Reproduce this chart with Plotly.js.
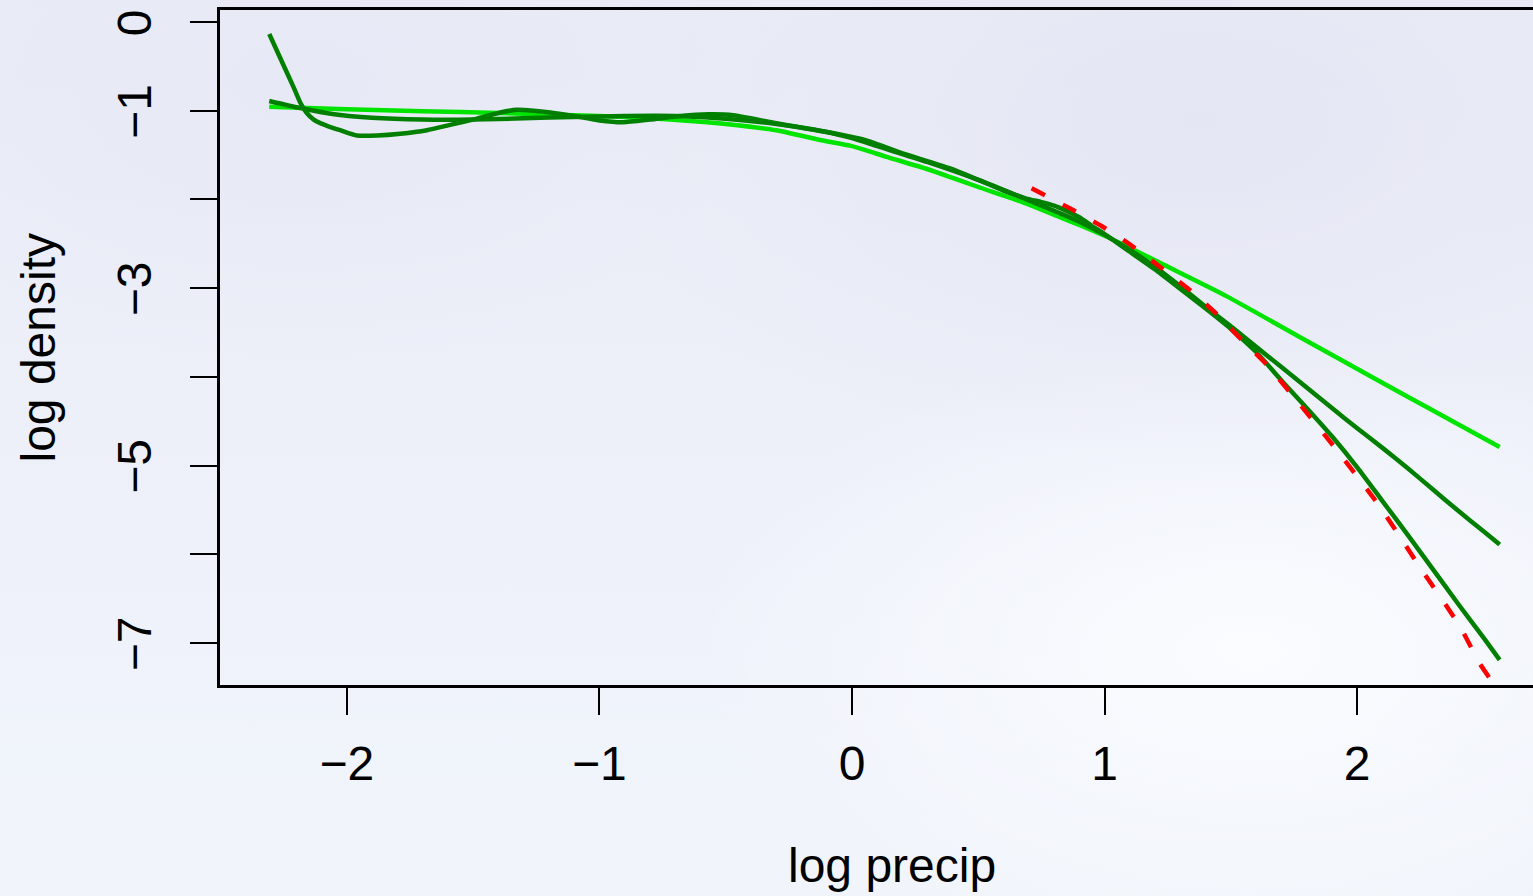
<!DOCTYPE html>
<html>
<head>
<meta charset="utf-8">
<script src="https://cdn.plot.ly/plotly-3.0.1.min.js"></script>
<style>
html, body { margin: 0; padding: 0; overflow: hidden; width: 1533px; height: 896px; }
body {
  background:
    radial-gradient(ellipse 900px 500px at 1200px 120px, rgba(228,229,243,0.9), rgba(228,229,243,0) 70%),
    radial-gradient(ellipse 700px 400px at 300px 80px, rgba(230,233,245,0.9), rgba(230,233,245,0) 70%),
    radial-gradient(ellipse 800px 450px at 1250px 650px, rgba(250,252,255,1), rgba(250,252,255,0) 70%),
    linear-gradient(180deg, #eaedf7 0%, #edf0f9 50%, #f1f5fb 100%);
}
#chart { width: 1533px; height: 896px; }
</style>
</head>
<body>
<div id="chart"></div>
<script>
// Wiggly kernel density estimate (dark green)
const kdeX = [-2.307,-2.25,-2.21,-2.184,-2.16,-2.131,-2.105,-2.078,-2.026,-1.96,-1.881,-1.788,-1.683,-1.591,-1.485,-1.392,-1.326,-1.261,-1.195,-1.1,-1.0,-0.906,-0.8,-0.68,-0.57,-0.47,-0.377,-0.245,-0.1,0.05,0.2,0.388,0.5,0.6,0.69,0.75,0.8,0.85,0.9,0.95,1.0,1.1,1.2,1.3,1.4,1.5,1.6,1.7,1.8,1.9,2.0,2.1,2.2,2.3,2.4,2.5,2.564];
const kdeY = [-0.135,-0.49,-0.74,-0.91,-1.02,-1.10,-1.14,-1.17,-1.22,-1.28,-1.28,-1.26,-1.22,-1.16,-1.09,-1.02,-0.99,-1.00,-1.02,-1.06,-1.11,-1.13,-1.10,-1.06,-1.04,-1.05,-1.10,-1.17,-1.24,-1.33,-1.48,-1.65,-1.78,-1.90,-1.99,-2.03,-2.07,-2.13,-2.20,-2.30,-2.39,-2.59,-2.79,-3.01,-3.23,-3.46,-3.72,-4.04,-4.35,-4.67,-5.02,-5.40,-5.78,-6.17,-6.56,-6.94,-7.19];

// Smooth fit (dark green)
const smoothX = [-2.307,-2.184,-2.05,-1.9,-1.7,-1.5,-1.3,-1.1,-0.9,-0.7,-0.5,-0.3,-0.1,0.0,0.1,0.3,0.5,0.7,0.9,1.0,1.1,1.2,1.3,1.4,1.5,1.6,1.7,1.8,1.9,2.0,2.1,2.2,2.3,2.4,2.5,2.564];
const smoothY = [-0.89,-0.97,-1.04,-1.08,-1.10,-1.10,-1.085,-1.07,-1.06,-1.06,-1.09,-1.15,-1.24,-1.31,-1.40,-1.58,-1.78,-2.01,-2.25,-2.40,-2.57,-2.76,-2.98,-3.21,-3.43,-3.66,-3.89,-4.12,-4.35,-4.58,-4.80,-5.03,-5.27,-5.51,-5.74,-5.89];

// Second smooth fit (light green)
const lightX = [-2.307,-2.0,-1.7,-1.4,-1.2,-1.0,-0.8,-0.64,-0.5,-0.3,-0.127,0.0,0.137,0.3,0.401,0.5,0.665,0.823,0.902,1.0,1.153,1.3,1.482,1.772,2.076,2.3,2.564];
const lightY = [-0.955,-0.985,-1.005,-1.025,-1.045,-1.06,-1.085,-1.115,-1.15,-1.22,-1.33,-1.40,-1.52,-1.66,-1.76,-1.86,-2.02,-2.20,-2.29,-2.41,-2.62,-2.83,-3.09,-3.55,-4.03,-4.38,-4.79];

// Tail model (red dashed)
const tailX = [0.711,0.862,0.988,1.107,1.219,1.337,1.443,1.542,1.641,1.733,1.918,2.089,2.247,2.406,2.485,2.537,2.58];
const tailY = [-1.874,-2.10,-2.30,-2.52,-2.76,-3.02,-3.29,-3.58,-3.86,-4.17,-4.82,-5.46,-6.14,-6.81,-7.23,-7.45,-7.66];

const xTicks = [-2,-1,0,1,2];
const xTickText = ['\u22122','\u22121','0','1','2'];
const yTicks = [0,-1,-2,-3,-4,-5,-6,-7];
const yTickText = ['0','\u22121','','\u22123','','\u22125','','\u22127'];

const FONT = '"Liberation Sans", Arial, Helvetica, sans-serif';
const dark = '#007f00';
const light = '#00e400';

const traces = [
  {x: lightX, y: lightY, mode: 'lines', line: {color: light, width: 4.5, shape: 'spline', smoothing: 0.6}, hoverinfo: 'skip'},
  {x: smoothX, y: smoothY, mode: 'lines', line: {color: dark, width: 4.5, shape: 'spline', smoothing: 0.6}, hoverinfo: 'skip'},
  {x: kdeX, y: kdeY, mode: 'lines', line: {color: dark, width: 4.5, shape: 'spline', smoothing: 0.6}, hoverinfo: 'skip'},
  {x: tailX, y: tailY, mode: 'lines', line: {color: '#ff0000', width: 4.5, dash: '15px,20px', shape: 'spline', smoothing: 0.6}, hoverinfo: 'skip'}
];

const layout = {
  width: 1533, height: 896,
  margin: {l: 220, r: 0, t: 10, b: 211, pad: 0},
  paper_bgcolor: 'rgba(0,0,0,0)',
  plot_bgcolor: 'rgba(0,0,0,0)',
  showlegend: false,
  font: {family: FONT, size: 48, color: '#000'},
  xaxis: {
    range: [-2.502, 2.696], autorange: false,
    tickvals: xTicks, ticktext: xTickText,
    ticks: 'outside', ticklen: 27, tickwidth: 2, tickcolor: '#000',
    showline: true, linewidth: 3, linecolor: '#000', mirror: true,
    showgrid: false, zeroline: false,
    tickfont: {family: FONT, size: 48, color: '#000'},
    ticklabelstandoff: 7
  },
  yaxis: {
    range: [-7.473, 0.135], autorange: false,
    tickvals: yTicks, ticktext: yTickText,
    ticks: 'outside', ticklen: 27, tickwidth: 2, tickcolor: '#000',
    showline: true, linewidth: 3, linecolor: '#000', mirror: false,
    showgrid: false, zeroline: false,
    tickangle: -90,
    tickfont: {family: FONT, size: 48, color: '#000'},
    ticklabelstandoff: 20,
    ticklabelshift: 8
  },
  annotations: [
    {text: 'log precip', xref: 'paper', yref: 'paper', x: (892-220)/1313, y: (685-866)/675,
     xanchor: 'center', yanchor: 'middle', showarrow: false, font: {family: FONT, size: 48, color: '#000'}},
    {text: 'log density', xref: 'paper', yref: 'paper', x: (38-220)/1313, y: 0.5, textangle: -90,
     xanchor: 'center', yanchor: 'middle', showarrow: false, font: {family: FONT, size: 48, color: '#000'}}
  ]
};

Plotly.newPlot('chart', traces, layout, {staticPlot: true, displayModeBar: false});
</script>
</body>
</html>
